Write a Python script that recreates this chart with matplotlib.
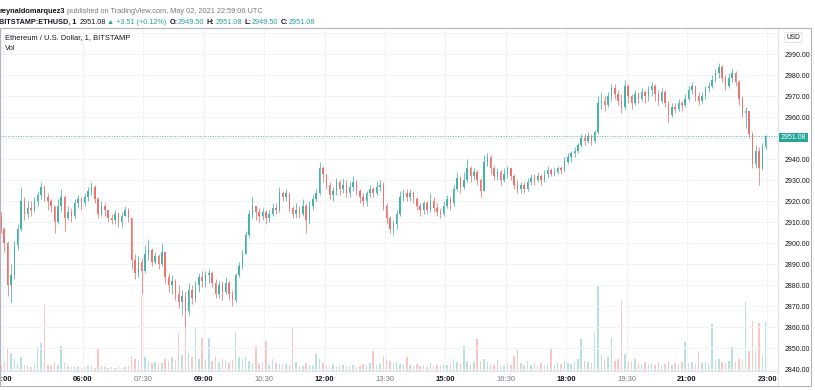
import matplotlib
matplotlib.use("Agg")
import matplotlib.pyplot as plt
from matplotlib.patches import Rectangle
import numpy as np

first_open = 2913
closes = [2907,
    2900, 2880, 2885, 2899, 2907, 2920, 2914, 2917, 2916, 2920, 2923, 2927,  # 04
    2922, 2920, 2918, 2910, 2918, 2922, 2912, 2915, 2913, 2919, 2921, 2919,  # 05
    2922, 2925, 2927, 2921, 2914, 2918, 2916, 2912, 2911, 2914, 2910, 2913,  # 06
    2916, 2912, 2892, 2886, 2891, 2887, 2895, 2897, 2891, 2894, 2890, 2896,  # 07
    2884, 2880, 2882, 2876, 2872, 2875, 2868, 2878, 2874, 2880, 2884, 2882,  # 08
    2885, 2886, 2881, 2876, 2880, 2877, 2881, 2876, 2873, 2885, 2889, 2895,  # 09
    2904, 2914, 2918, 2915, 2913, 2915, 2912, 2914, 2917, 2916, 2924, 2922,  # 10
    2924, 2917, 2914, 2916, 2914, 2918, 2911, 2918, 2921, 2924, 2936, 2933,  # 11
    2928, 2923, 2925, 2929, 2926, 2928, 2924, 2927, 2929, 2925, 2922, 2920,  # 12
    2924, 2926, 2924, 2927, 2928, 2918, 2912, 2907, 2909, 2914, 2922, 2924,  # 13
    2922, 2924, 2921, 2918, 2916, 2919, 2916, 2920, 2917, 2915, 2914, 2918,  # 14
    2921, 2919, 2926, 2931, 2927, 2930, 2936, 2932, 2934, 2930, 2925, 2939,  # 15
    2941, 2936, 2932, 2934, 2930, 2933, 2936, 2932, 2928, 2926, 2928, 2926,  # 16
    2929, 2931, 2930, 2932, 2930, 2933, 2935, 2933, 2934, 2936, 2935, 2939,  # 17
    2941, 2943, 2944, 2947, 2950, 2949, 2951, 2949, 2953, 2967, 2968, 2966,  # 18
    2970, 2974, 2971, 2968, 2965, 2975, 2970, 2967, 2971, 2969, 2972, 2970,  # 19
    2973, 2975, 2971, 2968, 2972, 2967, 2961, 2965, 2964, 2967, 2966, 2969,  # 20
    2973, 2975, 2970, 2968, 2970, 2974, 2975, 2978, 2981, 2984, 2979, 2975,  # 21
    2979, 2981, 2977, 2969, 2962, 2963, 2952, 2938, 2944, 2936, 2946, 2951.08]  # 22

highs = [2915,
    2908, 2901, 2890, 2901, 2909, 2927, 2922, 2920, 2920, 2922, 2925, 2929,
    2928, 2924, 2921, 2918, 2921, 2926, 2923, 2918, 2917, 2921, 2923, 2922,
    2924, 2927, 2929, 2928, 2922, 2920, 2919, 2916, 2914, 2916, 2915, 2915,
    2918, 2917, 2912, 2895, 2894, 2893, 2899, 2902, 2898, 2896, 2895, 2900,
    2890, 2886, 2885, 2883, 2880, 2878, 2877, 2881, 2880, 2882, 2886, 2887,
    2887, 2888, 2887, 2883, 2882, 2882, 2884, 2882, 2878, 2886, 2891, 2897,
    2906, 2916, 2922, 2918, 2917, 2917, 2916, 2916, 2919, 2919, 2927, 2925,
    2926, 2924, 2918, 2919, 2918, 2921, 2919, 2920, 2923, 2926, 2939, 2937,
    2933, 2929, 2927, 2931, 2930, 2931, 2930, 2929, 2932, 2930, 2926, 2924,
    2925, 2928, 2927, 2929, 2930, 2929, 2919, 2913, 2911, 2916, 2925, 2926,
    2926, 2926, 2925, 2922, 2919, 2920, 2920, 2924, 2922, 2919, 2917, 2920,
    2923, 2922, 2928, 2934, 2932, 2934, 2940, 2937, 2936, 2935, 2931, 2942,
    2943, 2942, 2937, 2936, 2935, 2936, 2937, 2936, 2933, 2930, 2929, 2929,
    2931, 2933, 2933, 2934, 2933, 2935, 2937, 2936, 2936, 2937, 2937, 2941,
    2943, 2944, 2946, 2948, 2952, 2952, 2953, 2952, 2954, 2970, 2972, 2970,
    2972, 2976, 2976, 2973, 2971, 2978, 2976, 2971, 2973, 2972, 2974, 2973,
    2975, 2977, 2976, 2973, 2974, 2973, 2968, 2967, 2967, 2969, 2968, 2971,
    2975, 2977, 2975, 2972, 2972, 2975, 2977, 2980, 2983, 2986, 2985, 2980,
    2981, 2983, 2982, 2978, 2970, 2965, 2960, 2953, 2947, 2946, 2948, 2951.5]

lows = [2905,
    2896, 2875, 2872, 2883, 2897, 2906, 2911, 2912, 2913, 2915, 2918, 2921,
    2920, 2916, 2915, 2905, 2909, 2915, 2906, 2911, 2910, 2912, 2917, 2916,
    2918, 2920, 2923, 2919, 2912, 2913, 2913, 2910, 2909, 2909, 2908, 2908,
    2913, 2910, 2888, 2883, 2884, 2876, 2886, 2892, 2889, 2890, 2888, 2889,
    2881, 2877, 2876, 2873, 2869, 2866, 2860, 2866, 2871, 2872, 2877, 2879,
    2879, 2881, 2879, 2874, 2874, 2873, 2876, 2873, 2870, 2872, 2884, 2888,
    2895, 2903, 2912, 2911, 2910, 2911, 2909, 2910, 2913, 2914, 2915, 2920,
    2920, 2915, 2912, 2912, 2912, 2913, 2905, 2909, 2916, 2920, 2923, 2929,
    2926, 2921, 2920, 2923, 2923, 2924, 2922, 2922, 2925, 2923, 2919, 2918,
    2918, 2922, 2922, 2923, 2925, 2916, 2909, 2905, 2904, 2907, 2913, 2920,
    2920, 2920, 2919, 2916, 2913, 2914, 2914, 2915, 2915, 2913, 2912, 2913,
    2917, 2916, 2918, 2925, 2924, 2926, 2929, 2929, 2930, 2928, 2922, 2925,
    2937, 2933, 2930, 2930, 2928, 2929, 2931, 2930, 2926, 2924, 2924, 2924,
    2925, 2928, 2928, 2929, 2928, 2929, 2931, 2932, 2932, 2933, 2933, 2934,
    2938, 2939, 2941, 2943, 2946, 2947, 2948, 2947, 2948, 2952, 2964, 2963,
    2965, 2968, 2969, 2966, 2962, 2964, 2967, 2964, 2966, 2967, 2968, 2967,
    2968, 2970, 2968, 2966, 2967, 2965, 2958, 2960, 2962, 2963, 2963, 2965,
    2968, 2971, 2968, 2966, 2967, 2969, 2972, 2974, 2977, 2979, 2977, 2973,
    2974, 2977, 2975, 2966, 2960, 2955, 2950, 2936, 2936, 2928, 2935, 2945]

volume = [6,
    10, 22, 18, 12, 8, 14, 6, 5, 4, 6, 24, 28,
    67, 6, 5, 9, 6, 25, 8, 5, 4, 5, 4, 3,
    4, 5, 6, 3, 22, 5, 4, 3, 4, 3, 5, 3,
    4, 5, 15, 12, 10, 75, 14, 10, 8, 9, 7, 8,
    12, 10, 14, 11, 38, 16, 50, 18, 14, 42, 12, 33,
    12, 33, 10, 14, 9, 12, 10, 8, 11, 39, 14, 12,
    14, 10, 8, 25, 7, 9, 30, 6, 12, 8, 7, 6,
    7, 6, 43, 9, 6, 5, 8, 6, 5, 17, 12, 8,
    6, 5, 7, 4, 5, 6, 4, 5, 6, 4, 5, 7,
    6, 8, 20, 6, 7, 15, 12, 10, 8, 9, 7, 6,
    14, 6, 5, 7, 5, 6, 4, 8, 5, 6, 5, 7,
    6, 7, 12, 9, 8, 25, 10, 7, 9, 32, 10, 12,
    9, 7, 6, 11, 6, 5, 7, 6, 15, 21, 8, 6,
    10, 6, 7, 5, 8, 6, 7, 23, 6, 8, 7, 10,
    8, 7, 10, 12, 32, 10, 9, 8, 38, 85, 16, 12,
    14, 33, 10, 12, 70, 17, 10, 9, 12, 8, 7, 9,
    7, 8, 6, 9, 6, 7, 10, 6, 8, 7, 9, 29,
    8, 9, 7, 20, 8, 9, 7, 47, 10, 12, 9, 8,
    10, 24, 9, 12, 10, 69, 20, 50, 20, 48, 14, 49]

last_price = 2951.08
time_ticks = [240, 360, 450, 540, 630, 720, 810, 900, 990, 1080, 1170, 1260, 1380]
time_labels = ['04:00', '06:00', '07:30', '09:00', '10:30', '12:00', '13:30',
               '15:00', '16:30', '18:00', '19:30', '21:00', '23:00']
price_ticks = list(range(2840, 3001, 10))

UP = '#26a69a'
DOWN = '#ef5350'
UP_C = '#45b3a8'
DOWN_C = '#f1716d'
DARK = '#131722'
GREY = '#787b86'
FONT = ['Liberation Sans', 'DejaVu Sans']

W, H = 815, 390
fig = plt.figure(figsize=(W / 100, H / 100), dpi=100)
fig.patch.set_facecolor('white')


def fx(px):
    return px / W


def fy(py):
    return 1 - py / H


closes = np.array(closes, dtype=float)
opens = np.concatenate([[first_open], closes[:-1]])
highs = np.maximum(np.array(highs, dtype=float), np.maximum(opens, closes))
lows = np.minimum(np.array(lows, dtype=float), np.minimum(opens, closes))
t = 235 + 2.5 + 5 * np.arange(len(closes))
up = closes >= opens
col = np.where(up, UP_C, DOWN_C)
vcol = np.where(up, UP, DOWN)

pos = [0, fy(371), fx(778), (371 - 28) / H]
axv = fig.add_axes(pos)
axv.set_zorder(0)
ax = fig.add_axes(pos)
ax.set_zorder(1)
ax.patch.set_alpha(0)

x_lo, x_hi = 236.27, 1395.75
axv.bar(t, volume, width=2.2, color=vcol, alpha=0.33, linewidth=0)
axv.set_xlim(x_lo, x_hi)
axv.set_ylim(0, 343)
axv.set_axis_off()

ax.set_xlim(x_lo, x_hi)
ax.set_ylim(2839.2, 3002.6)
ax.vlines(t, lows, highs, colors=col, linewidth=0.55, zorder=3)
body = np.maximum(np.abs(closes - opens), 0.35)
ax.bar(t, body, bottom=np.minimum(opens, closes), width=2.2, color=col,
       linewidth=0, zorder=4)

ax.axhline(last_price, color=UP, linestyle=(0, (1, 1.6)), linewidth=0.7,
           alpha=0.8, zorder=2)

# 2950 and 3000 sit under the price badge and the currency badge
ax.set_yticks(price_ticks)
ax.set_yticklabels(['' if p in (2950, 3000) else '%.2f' % p for p in price_ticks])
ax.yaxis.tick_right()
ax.tick_params(axis='y', length=0, pad=5, labelsize=5, labelcolor=DARK)
ax.set_xticks(time_ticks)
ax.set_xticklabels(time_labels)
ax.tick_params(axis='x', length=0, pad=3.5, labelsize=5.5)
for lab in ax.get_yticklabels() + ax.get_xticklabels():
    lab.set_family(FONT)
for lab in ax.get_xticklabels():
    if lab.get_text().endswith(':00'):
        lab.set_fontweight('bold')
        lab.set_color(DARK)
    else:
        lab.set_color(GREY)

ax.grid(True, color='#f0f3fa', linewidth=0.8, zorder=0)
ax.set_axisbelow(True)
for side in ['top', 'bottom', 'left', 'right']:
    ax.spines[side].set_color('#e0e3eb')
    ax.spines[side].set_linewidth(0.8)
ax.spines['left'].set_color('#b2b5be')

# corner box under the price scale hides the clipped labels
fig.patches.append(Rectangle((fx(778.5), fy(386)), fx(33), (386 - 371.5) / H,
                             transform=fig.transFigure, facecolor='white',
                             edgecolor='none', zorder=5))
fig.patches.append(Rectangle((0, fy(386)), fx(811), (386 - 28) / H,
                             transform=fig.transFigure, facecolor='none',
                             edgecolor='#b2b5be', linewidth=0.8, zorder=6))
fig.lines.append(plt.Line2D([fx(778), fx(778)], [fy(28), fy(386)],
                            transform=fig.transFigure, color='#e0e3eb',
                            linewidth=0.8, zorder=6))

# last price label
fig.patches.append(Rectangle((fx(779), fy(142)), fx(29), 9.5 / H,
                             transform=fig.transFigure, facecolor=UP,
                             edgecolor='none', zorder=7))
fig.text(fx(793.5), fy(137.3), '%.2f' % last_price, color='white', fontsize=5,
         family=FONT, ha='center', va='center', zorder=8)

# currency badge
fig.text(fx(793.5), fy(37.5), 'USD', color=DARK, fontsize=4.8, family=FONT,
         ha='center', va='center', zorder=8,
         bbox=dict(boxstyle='round,pad=0.25', facecolor='white',
                   edgecolor='#d1d4dc', linewidth=0.5))

fig.text(fx(5), fy(37.5), 'Ethereum / U.S. Dollar, 1, BITSTAMP', color=DARK,
         fontsize=5.4, family=FONT, va='center')
fig.text(fx(5), fy(48.5), 'Vol', color=DARK, fontsize=5.4, family=FONT,
         va='center')

renderer = fig.canvas.get_renderer()


def chain(parts, x, y, size):
    for s, c, w, gap in parts:
        txt = fig.text(fx(x), fy(y), s, color=c, fontsize=size, fontweight=w,
                       family=FONT, va='center', ha='left')
        x += txt.get_window_extent(renderer).width + gap


chain([('reynaldomarquez3', DARK, 'bold', 2.5),
       ('published on TradingView.com, May 02, 2021 22:59:06 UTC', GREY,
        'normal', 0)], -1, 11.5, 5.3)
chain([('BITSTAMP:ETHUSD, 1', DARK, 'bold', 3),
       ('2951.08', DARK, 'normal', 1.5),
       ('\u25b2 +3.51 (+0.12%)', UP, 'normal', 3),
       ('O:', DARK, 'bold', 0.5), ('2949.50', UP, 'normal', 2.5),
       ('H:', DARK, 'bold', 0.5), ('2951.08', UP, 'normal', 2.5),
       ('L:', DARK, 'bold', 0.5), ('2949.50', UP, 'normal', 2.5),
       ('C:', DARK, 'bold', 0.5), ('2951.08', UP, 'normal', 0)],
      -1, 22, 5.2)

fig.savefig('out.png', dpi=100)
